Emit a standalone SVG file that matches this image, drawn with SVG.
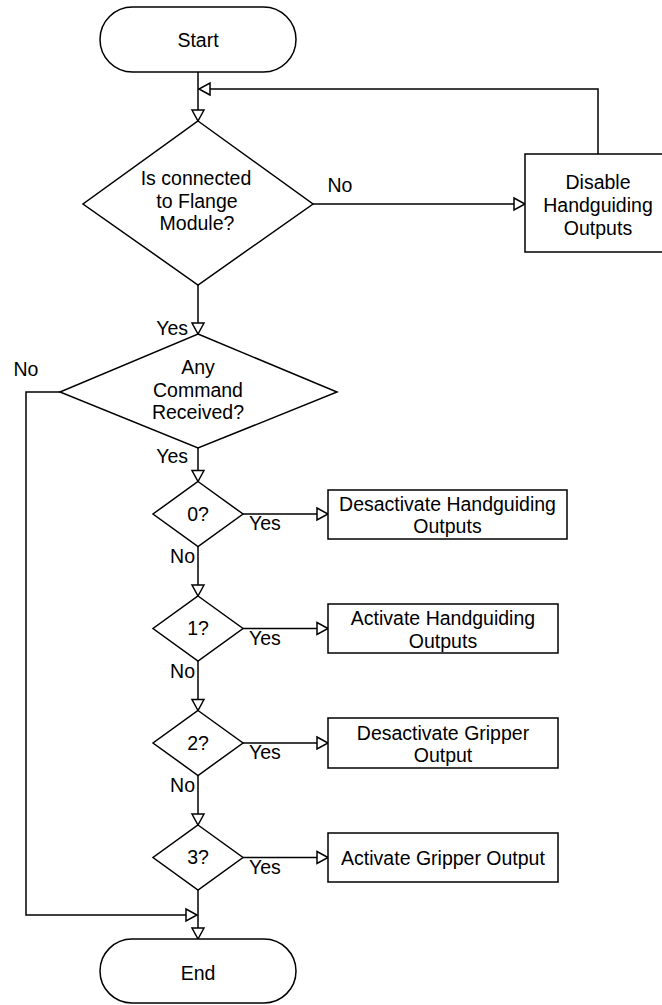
<svg xmlns="http://www.w3.org/2000/svg" width="662" height="1005" viewBox="0 0 662 1005">
<style>
.s{fill:#fff;stroke:#000;stroke-width:1.5}
.c{fill:none;stroke:#000;stroke-width:1.5}
text{font-family:"Liberation Sans",Arial,sans-serif;font-size:19.5px;fill:#000}
.m{text-anchor:middle}
.e{text-anchor:end}
</style>
<defs>
<marker id="a" markerUnits="userSpaceOnUse" markerWidth="14" markerHeight="14" refX="11" refY="6" orient="auto" overflow="visible">
<path d="M0,0 L11,6 L0,12 Z" fill="#fff" stroke="#000" stroke-width="1.5"/>
</marker>
</defs>
<rect width="662" height="1005" fill="#fff"/>
<g id="connectors">
<path class="c" d="M198,72 V121" marker-end="url(#a)"/>
<path class="c" d="M598,154 V89 H199" marker-end="url(#a)"/>
<path class="c" d="M313,204 H525" marker-end="url(#a)"/>
<path class="c" d="M198,285 V334" marker-end="url(#a)"/>
<path class="c" d="M60,392 H26 V915 H197" marker-end="url(#a)"/>
<path class="c" d="M198,448 V481.5" marker-end="url(#a)"/>
<path class="c" d="M243,514 H328" marker-end="url(#a)"/>
<path class="c" d="M198,546.5 V596" marker-end="url(#a)"/>
<path class="c" d="M243,628.5 H328" marker-end="url(#a)"/>
<path class="c" d="M198,661 V710.5" marker-end="url(#a)"/>
<path class="c" d="M243,743 H328" marker-end="url(#a)"/>
<path class="c" d="M198,775.5 V825" marker-end="url(#a)"/>
<path class="c" d="M243,857.5 H328" marker-end="url(#a)"/>
<path class="c" d="M198,890 V939" marker-end="url(#a)"/>
<text x="340" y="192" class="m">No</text>
<text x="188" y="335" class="e">Yes</text>
<text x="26" y="376" class="m">No</text>
<text x="188" y="463" class="e">Yes</text>
<text x="249" y="530">Yes</text>
<text x="195" y="563" class="e">No</text>
<text x="249" y="644.5">Yes</text>
<text x="195" y="677.5" class="e">No</text>
<text x="249" y="759">Yes</text>
<text x="195" y="792" class="e">No</text>
<text x="249" y="873.5">Yes</text>
</g>
<g id="start">
<rect class="s" x="100" y="7" width="196" height="65" rx="32.5"/>
<text x="198" y="46.5" class="m">Start</text>
</g>
<g id="connected">
<path class="s" d="M198,121 L313,204 L198,285 L83,204 Z"/>
<text x="196" y="185" class="m">Is connected</text>
<text x="197" y="207.5" class="m">to Flange</text>
<text x="197" y="230" class="m">Module?</text>
</g>
<g id="disable">
<rect class="s" x="525" y="154" width="146" height="98"/>
<text x="598" y="189" class="m">Disable</text>
<text x="598" y="212" class="m">Handguiding</text>
<text x="598" y="235" class="m">Outputs</text>
</g>
<g id="command">
<path class="s" d="M198,334 L337,392 L198,448 L60,392 Z"/>
<text x="198" y="374" class="m">Any</text>
<text x="198" y="396.5" class="m">Command</text>
<text x="198" y="419" class="m">Received?</text>
</g>
<g id="d0">
<path class="s" d="M198,481.5 L243,514 L198,546.5 L153,514 Z"/>
<text x="198" y="520.5" class="m">0?</text>
</g>
<g id="b0">
<rect class="s" x="328" y="490" width="239" height="49"/>
<text x="447.5" y="510.5" class="m">Desactivate Handguiding</text>
<text x="447.5" y="533" class="m">Outputs</text>
</g>
<g id="d1">
<path class="s" d="M198,596 L243,628.5 L198,661 L153,628.5 Z"/>
<text x="198" y="635" class="m">1?</text>
</g>
<g id="b1">
<rect class="s" x="328" y="604" width="230" height="49"/>
<text x="443" y="625" class="m">Activate Handguiding</text>
<text x="443" y="647.5" class="m">Outputs</text>
</g>
<g id="d2">
<path class="s" d="M198,710.5 L243,743 L198,775.5 L153,743 Z"/>
<text x="198" y="749.5" class="m">2?</text>
</g>
<g id="b2">
<rect class="s" x="328" y="718" width="230" height="50"/>
<text x="443" y="739.5" class="m">Desactivate Gripper</text>
<text x="443" y="762" class="m">Output</text>
</g>
<g id="d3">
<path class="s" d="M198,825 L243,857.5 L198,890 L153,857.5 Z"/>
<text x="198" y="864" class="m">3?</text>
</g>
<g id="b3">
<rect class="s" x="328" y="833" width="230" height="49"/>
<text x="443" y="864.5" class="m">Activate Gripper Output</text>
</g>
<g id="end">
<rect class="s" x="100" y="939" width="196" height="64" rx="32"/>
<text x="198" y="980" class="m">End</text>
</g>
</svg>
